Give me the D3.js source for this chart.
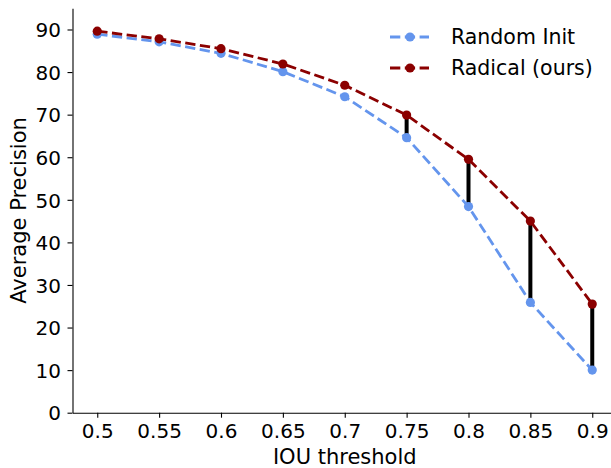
<!DOCTYPE html>
<html>
<head>
<meta charset="utf-8">
<script src="https://cdn.jsdelivr.net/npm/d3@7"></script>
<style>
  body { margin: 0; background: #fff; }
  text { font-family: "DejaVu Sans", sans-serif; }
</style>
</head>
<body>
<svg id="chart" width="611" height="468"></svg>
<script>
// data
const thresholds = [0.5, 0.55, 0.6, 0.65, 0.7, 0.75, 0.8, 0.85, 0.9];
const randomInit = [88.9, 87.1, 84.4, 80.1, 74.2, 64.6, 48.4, 25.9, 10.0];
const radical = [89.6, 87.8, 85.5, 81.9, 76.9, 69.9, 59.5, 45.0, 25.5];
const yTicks = [0, 10, 20, 30, 40, 50, 60, 70, 80, 90];
const gapFrom = 0.75; // vertical bars from this threshold on

const blue = "#6495ed", red = "#8b0000";
const tickFont = 20, labelFont = 21, legendFont = 20.5;

const svg = d3.select("#chart");
const x = d3.scaleLinear().domain([0.48, 0.92]).range([72.5, 617]);
const y = d3.scaleLinear().domain([0, 95]).range([412.7, 8.2]);

// axes
const xAxis = svg.append("g")
  .attr("transform", `translate(0,${y(0)})`)
  .call(d3.axisBottom(x).tickValues(thresholds).tickSize(5).tickSizeOuter(0).tickFormat(d => String(d)));
const yAxis = svg.append("g")
  .attr("transform", `translate(${x(0.48)},0)`)
  .call(d3.axisLeft(y).tickValues(yTicks).tickSize(5).tickSizeOuter(0));

[xAxis, yAxis].forEach(a => {
  a.select(".domain").attr("stroke", "#000").attr("stroke-width", 1.1);
  a.selectAll(".tick line").attr("stroke", "#000").attr("stroke-width", 1.1);
  a.selectAll(".tick text").attr("font-size", tickFont).attr("fill", "#000")
    .attr("font-family", "DejaVu Sans, sans-serif");
});
xAxis.selectAll(".tick text").attr("y", 25.5).attr("dy", 0);
yAxis.selectAll(".tick text").attr("x", -11.5).attr("dy", "0.36em");

// axis titles
svg.append("text")
  .attr("x", (x(0.48) + x(0.92)) / 2).attr("y", 464)
  .attr("text-anchor", "middle").attr("font-size", labelFont)
  .text("IOU threshold");
svg.append("text")
  .attr("transform", `translate(26,${y(47.5)}) rotate(-90)`)
  .attr("text-anchor", "middle").attr("font-size", labelFont)
  .text("Average Precision");

// black gap bars
const idx = d3.range(thresholds.length).filter(i => thresholds[i] >= gapFrom);
svg.append("g").selectAll("line")
  .data(idx)
  .join("line")
  .attr("x1", i => x(thresholds[i])).attr("x2", i => x(thresholds[i]))
  .attr("y1", i => y(randomInit[i])).attr("y2", i => y(radical[i]))
  .attr("stroke", "#000").attr("stroke-width", 4);

const line = d3.line().x((d, i) => x(thresholds[i])).y(d => y(d));

function series(vals, color) {
  svg.append("path")
    .attr("d", line(vals))
    .attr("fill", "none").attr("stroke", color)
    .attr("stroke-width", 2.8).attr("stroke-dasharray", "10.3,4.5");
  svg.append("g").selectAll("circle")
    .data(vals)
    .join("circle")
    .attr("cx", (d, i) => x(thresholds[i])).attr("cy", d => y(d))
    .attr("r", 4.6).attr("fill", color);
}
series(randomInit, blue);
series(radical, red);

// legend
const legend = [["Random Init", blue], ["Radical (ours)", red]];
const lg = svg.append("g");
legend.forEach(([name, color], i) => {
  const ly = 37 + i * 31;
  lg.append("line").attr("x1", 390).attr("x2", 429).attr("y1", ly).attr("y2", ly)
    .attr("stroke", color).attr("stroke-width", 2.8).attr("stroke-dasharray", "10.3,4.5");
  lg.append("circle").attr("cx", 410).attr("cy", ly).attr("r", 4.6).attr("fill", color);
  lg.append("text").attr("x", 451).attr("y", ly).attr("dy", "0.36em")
    .attr("font-size", legendFont).text(name);
});
</script>
</body>
</html>
